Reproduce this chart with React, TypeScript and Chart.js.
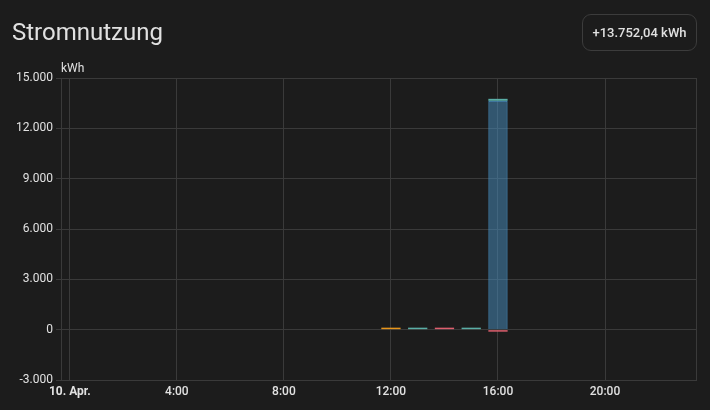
import React, { useEffect, useRef } from "react";
import { Chart, registerables } from "chart.js";

Chart.register(...registerables);

const TITLE = "Stromnutzung";
const TOTAL_LABEL = "+13.752,04 kWh";
const UNIT = "kWh";

const gridHours = [16];
const gridValues = [13640];
const batteryHours = [13, 15, 16];
const batteryValues = [9, 11, 112];
const solarHours = [12];
const solarValues = [10];
const returnHours = [14, 16];
const returnValues = [10, -12];

const X_MIN = -0.33;
const X_MAX = 23.4;
const Y_MIN = -3000;
const Y_MAX = 15000;
const Y_STEP = 3000;
const X_STEP = 4;
const DAY_LABEL = "10. Apr.";

const GRID = "#3a3a3a";
const TEXT = "#e1e1e1";
const BG = "#1c1c1c";

function fmtDe(v: number): string {
  const neg = v < 0;
  const s = Math.abs(Math.round(v)).toString().replace(/\B(?=(\d{3})+(?!\d))/g, ".");
  return (neg ? "-" : "") + s;
}

function pts(xs: number[], ys: number[]) {
  return xs.map((x, i) => ({ x, y: ys[i] }));
}

export default function App() {
  const ref = useRef<HTMLCanvasElement | null>(null);

  useEffect(() => {
    if (!ref.current) return;
    const unitPlugin = {
      id: "unitAndBorder",
      afterDraw(chart: any) {
        const { ctx, chartArea } = chart;
        ctx.save();
        ctx.strokeStyle = GRID;
        ctx.lineWidth = 1;
        ctx.beginPath();
        ctx.moveTo(Math.round(chartArea.right) + 0.5, chartArea.top);
        ctx.lineTo(Math.round(chartArea.right) + 0.5, chartArea.bottom);
        ctx.stroke();
        ctx.fillStyle = TEXT;
        ctx.font = "12px Roboto";
        ctx.textAlign = "left";
        ctx.textBaseline = "alphabetic";
        ctx.fillText(UNIT, chartArea.left, chartArea.top - 6);
        ctx.restore();
      },
    };
    const chart = new Chart(ref.current, {
      type: "bar",
      data: {
        datasets: [
          {
            label: "Netz",
            data: pts(gridHours, gridValues),
            backgroundColor: "rgba(72,143,194,0.5)",
            borderColor: "#488fc2",
            borderWidth: 1,
            stack: "s",
          },
          {
            label: "Batterie",
            data: pts(batteryHours, batteryValues),
            backgroundColor: "#5aaea6",
            borderWidth: 0,
            minBarLength: 2,
            stack: "s",
          },
          {
            label: "Solar",
            data: pts(solarHours, solarValues),
            backgroundColor: "#e8961c",
            borderWidth: 0,
            minBarLength: 2,
            stack: "s",
          },
          {
            label: "Rückgabe",
            data: pts(returnHours, returnValues),
            backgroundColor: "#de5f6e",
            borderWidth: 0,
            minBarLength: 2,
            stack: "s",
          },
        ],
      } as any,
      options: {
        animation: false,
        responsive: false,
        maintainAspectRatio: false,
        layout: { padding: { top: 78, right: 14, left: 0, bottom: 0 } },
        plugins: { legend: { display: false }, tooltip: { enabled: false } },
        scales: {
          x: {
            type: "linear",
            min: X_MIN,
            max: X_MAX,
            offset: false,
            grid: { color: GRID, drawTicks: false, offset: false },
            border: { display: true, color: GRID },
            afterFit: (s: any) => {
              s.height = 30;
            },
            ticks: {
              stepSize: X_STEP,
              includeBounds: false,
              autoSkip: false,
              maxRotation: 0,
              padding: 5,
              color: TEXT,
              font: (c: any) => ({
                family: "Roboto",
                size: 12,
                weight: c.tick && c.tick.value === 0 ? "bold" : "500",
              }),
              callback: (v: any) => (Number(v) === 0 ? DAY_LABEL : `${v}:00`),
            },
          },
          y: {
            type: "linear",
            stacked: true,
            min: Y_MIN,
            max: Y_MAX,
            grid: { color: GRID, drawTicks: true, tickLength: 5 },
            border: { display: true, color: GRID },
            afterFit: (s: any) => {
              s.width = 61;
            },
            ticks: {
              stepSize: Y_STEP,
              padding: 3,
              color: TEXT,
              font: { family: "Roboto", size: 12 },
              callback: (v: any) => fmtDe(Number(v)),
            },
          },
        },
      } as any,
      plugins: [unitPlugin],
    });
    return () => chart.destroy();
  }, []);

  return (
    <div
      style={{
        position: "fixed",
        left: 0,
        top: 0,
        width: 710,
        height: 410,
        background: BG,
        overflow: "hidden",
        fontFamily: "Roboto, sans-serif",
      }}
    >
      <canvas
        ref={ref}
        width={710}
        height={410}
        style={{ position: "absolute", left: 0, top: 0, width: 710, height: 410 }}
      />
      <div
        style={{
          position: "absolute",
          left: 12,
          top: 16,
          fontSize: 24,
          lineHeight: "32px",
          color: TEXT,
          fontWeight: 400,
        }}
      >
        {TITLE}
      </div>
      <div
        style={{
          position: "absolute",
          left: 582,
          top: 14,
          width: 113,
          height: 35,
          border: "1px solid #3c3c3c",
          borderRadius: 9,
          boxSizing: "content-box",
          color: TEXT,
          fontSize: 13,
          fontWeight: 500,
          display: "flex",
          alignItems: "center",
          justifyContent: "center",
        }}
      >
        {TOTAL_LABEL}
      </div>
    </div>
  );
}
